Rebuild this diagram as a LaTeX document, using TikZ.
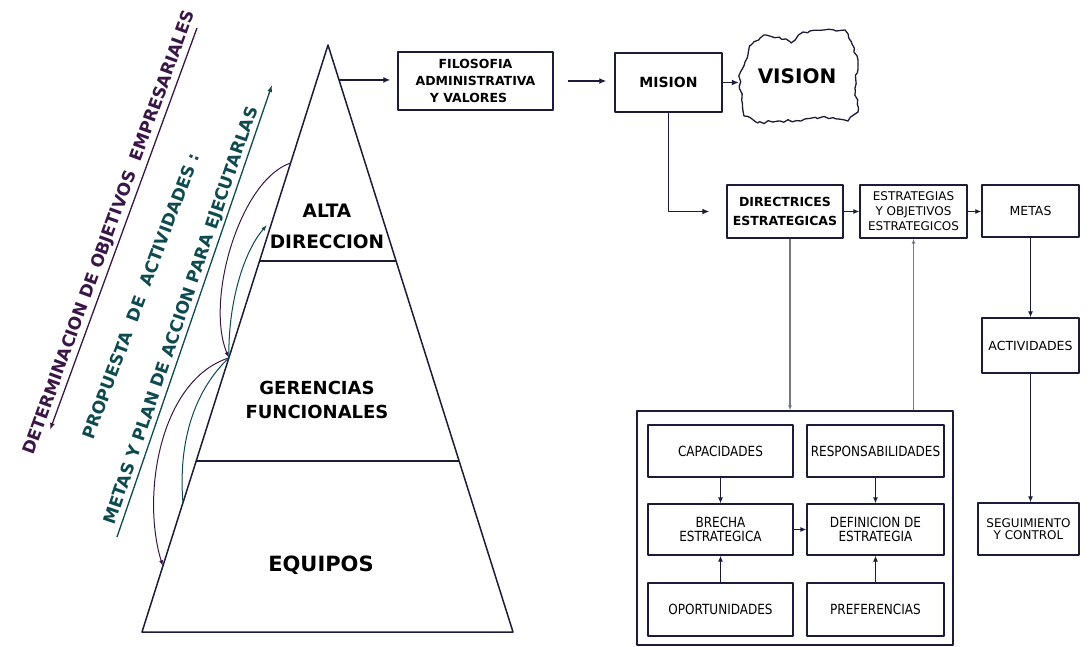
\documentclass[tikz,border=0pt]{standalone}
\usepackage{fontspec}
\setmainfont{DejaVu Sans}
\newfontfamily\condfont[FakeStretch=0.86]{DejaVu Sans}
\usetikzlibrary{arrows.meta,calc,decorations.pathmorphing}
\definecolor{ink}{RGB}{28,28,58}
\definecolor{plumink}{RGB}{58,22,70}
\definecolor{tealink}{RGB}{14,74,80}
\pgfmathsetseed{11}
\begin{document}
\begin{tikzpicture}[x=1pt,y=-1pt,line join=round,
  pyr/.style={draw=ink,line width=1.5pt},
  arr/.style={draw=ink,line width=1.3pt,-{Latex[length=7pt,width=6pt]}},
  smallarr/.style={draw=ink,line width=1.2pt,-{Latex[length=6pt,width=5pt]}},
  grayarr/.style={draw=ink!60,line width=1.2pt,-{Latex[length=5pt,width=4pt]}},
  box/.style={draw=ink,line width=1.4pt,inner sep=0pt,align=center},
  inbox/.style={box,line width=1.2pt,font=\condfont\fontsize{14}{14}\selectfont},
  boldtxt/.style={font=\bfseries\fontsize{#1}{#1}\selectfont},
  cloudline/.style={draw=ink,line width=1.3pt,decorate,
    decoration={random steps,segment length=4pt,amplitude=1.4pt}},
  diagtxt/.style={font=\bfseries\fontsize{17}{17}\selectfont,inner sep=0pt},
  flowline/.style={line width=1pt}]
\useasboundingbox (0,0) rectangle (1091,647);

% ---------- pyramid ----------
\coordinate (apex) at (328,45);
\coordinate (bl) at (142,632);
\coordinate (br) at (513,632);
\draw[pyr] (apex) -- (bl) -- (br) -- cycle;
\coordinate (l1) at ($(apex)!0.368!(bl)$);
\coordinate (r1) at ($(apex)!0.368!(br)$);
\coordinate (l2) at ($(apex)!0.7087!(bl)$);
\coordinate (r2) at ($(apex)!0.7087!(br)$);
\draw[pyr] (l1) -- (r1);
\draw[pyr] (l2) -- (r2);

\node[align=center,font=\bfseries\fontsize{18.5}{31}\selectfont] (alta) at (327,226) {ALTA\\DIRECCION};
\node[align=center,font=\bfseries\fontsize{18}{24}\selectfont] (ger) at (317,400) {GERENCIAS\\FUNCIONALES};
\node[boldtxt=21] (equipos) at (321,565) {EQUIPOS};

% ---------- diagonal labels ----------
\coordinate (dtop) at (197,28);
\coordinate (dbot) at (50,430);
\draw[plumink,line width=1.3pt,-{Latex[length=7pt,width=5pt]}] (dtop) -- (dbot);
\node[diagtxt,text=plumink,rotate=70] (det) at (110,233) {DETERMINACION DE OBJETIVOS\ \ EMPRESARIALES};

\node[diagtxt,text=tealink,rotate=69.5] (prop) at (141,296) {PROPUESTA\ \ DE\ \ ACTIVIDADES :};

\coordinate (tbot) at (117,537);
\coordinate (ttop) at (272,85);
\draw[tealink,line width=1.3pt,-{Latex[length=7pt,width=5pt]}] (tbot) -- (ttop);
\node[diagtxt,text=tealink,rotate=71] (metasplan) at (182,316) {METAS Y PLAN DE ACCION PARA EJECUTARLAS};

% ---------- curved flows along the pyramid ----------
\coordinate (cA) at ($(apex)!0.201!(bl)$);
\coordinate (cB) at ($(apex)!0.533!(bl)$);
\coordinate (cC) at ($(apex)!0.888!(bl)$);
\coordinate (cD) at ($(apex)!0.78!(bl)$);
\coordinate (cE) at (267,225);
\draw[plumink,flowline,-{Latex[length=6pt,width=4pt]}] (cA) .. controls (240,180) and (205,300) .. (cB);
\draw[plumink,flowline,-{Latex[length=6pt,width=4pt]}] (cB) .. controls (160,380) and (141,495) .. (cC);
\draw[tealink,flowline] (cD) .. controls (178,440) and (195,390) .. (cB);
\draw[tealink,flowline,-{Latex[length=6pt,width=4pt]}] (cB) .. controls (228,300) and (245,250) .. (cE);

% ---------- top row ----------
\node[box,minimum width=155pt,minimum height=58pt,font=\bfseries\fontsize{12.5}{17}\selectfont] (filo) at (475.5,81) {FILOSOFIA\\ADMINISTRATIVA\\Y VALORES\hspace*{14pt}};
\node[box,minimum width=107pt,minimum height=59pt,boldtxt=14] (mision) at (668.5,82.5) {MISION};
\node[boldtxt=20,minimum width=116pt,minimum height=90pt] (vision) at (797,76) {VISION};
% hand-drawn cloud around VISION
\draw[cloudline] (vision.west) -- (745,62) -- (751,45) -- (766,35) -- (786,39) -- (791,43)
  -- (803,32) -- (824,30) -- (845,30) -- (852,44) -- (858,60) -- (855,88) -- (858,112)
  -- (848,121) -- (822,117) -- (801,121) -- (780,121) -- (758,123) -- (744,116)
  -- (742,97) -- cycle;

\coordinate (p0) at ($(apex)!0.0596!(br)$);
\draw[arr,shorten >=7pt] (p0) -- (filo.west |- p0);
\draw[arr,shorten <=14pt,shorten >=8pt] (filo.east) -- (filo.east -| mision.west);
\draw[arr] (mision.east) -- (mision.east -| vision.west);

% ---------- second row ----------
\node[box,minimum width=116pt,minimum height=53pt,font=\bfseries\fontsize{12.5}{19}\selectfont] (dir) at (785,211.5) {DIRECTRICES\\ESTRATEGICAS};
\node[box,minimum width=107pt,minimum height=53pt,font=\fontsize{12}{15}\selectfont] (est) at (913.5,211.5) {ESTRATEGIAS\\Y OBJETIVOS\\ESTRATEGICOS};
\node[box,minimum width=97pt,minimum height=52pt,font=\fontsize{12.5}{12.5}\selectfont] (metas) at (1030.5,211) {METAS};
\node[box,minimum width=97pt,minimum height=55pt,font=\fontsize{12.5}{12.5}\selectfont] (activ) at (1030.5,345.5) {ACTIVIDADES};
\node[box,minimum width=101pt,minimum height=52pt,font=\fontsize{12}{12}\selectfont] (seg) at (1028.5,529) {SEGUIMIENTO\\Y CONTROL};

\draw[arr,shorten >=17pt] (mision.south) |- (dir.west);
\draw[smallarr] (dir.east) -- (est.west);
\draw[smallarr] (est.east) -- (est.east -| metas.west);
\draw[smallarr] (metas.south) -- (activ.north);
\draw[smallarr] (activ.south) -- (activ.south |- seg.north);

% ---------- strategy block ----------
\node[box,minimum width=316pt,minimum height=234pt] (outer) at (795,528) {};
\node[inbox,minimum width=145pt,minimum height=52pt] (cap) at (720.5,451) {CAPACIDADES};
\node[inbox,minimum width=137pt,minimum height=52pt] (resp) at (875.5,451) {RESPONSABILIDADES};
\node[inbox,minimum width=145pt,minimum height=51pt] (brecha) at (720.5,529.5) {BRECHA\\ESTRATEGICA};
\node[inbox,minimum width=137pt,minimum height=51pt] (def) at (875.5,529.5) {DEFINICION DE\\ESTRATEGIA};
\node[inbox,minimum width=145pt,minimum height=53pt] (opor) at (720.5,609.5) {OPORTUNIDADES};
\node[inbox,minimum width=137pt,minimum height=53pt] (pref) at (875.5,609.5) {PREFERENCIAS};

\draw[grayarr] ([xshift=5pt]dir.south) -- ([xshift=5pt]dir.south |- outer.north);
\draw[grayarr] (est.south |- outer.north) -- (est.south);

\draw[smallarr] (cap.south) -- (brecha.north);
\draw[smallarr] (resp.south) -- (def.north);
\draw[smallarr] (brecha.east) -- (def.west);
\draw[smallarr] (opor.north) -- (brecha.south);
\draw[smallarr] (pref.north) -- (def.south);
\end{tikzpicture}
\end{document}
